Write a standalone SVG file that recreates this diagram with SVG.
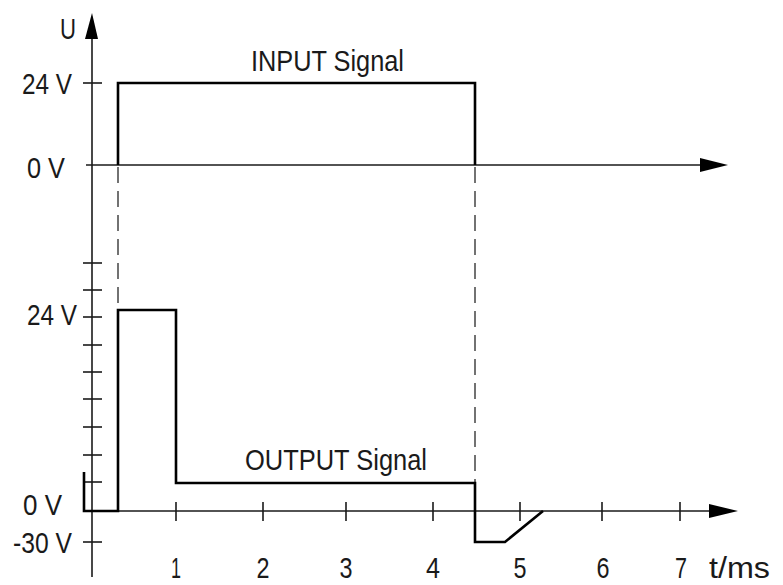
<svg xmlns="http://www.w3.org/2000/svg" width="783" height="585" viewBox="0 0 783 585">
<style>
.ax{stroke:#1a1a1a;stroke-width:1.6;fill:none}
.tk{stroke:#1a1a1a;stroke-width:1.6}
.sig{stroke:#000;stroke-width:2.6;fill:none;stroke-linejoin:miter}
.dash{stroke:#444;stroke-width:1.5;stroke-dasharray:16 8;fill:none}
.arr{fill:#000}
text{font-family:"Liberation Sans",Arial,sans-serif;font-size:30px;fill:#1a1a1a}
.c{text-anchor:middle}
</style>
<rect width="783" height="585" fill="#fff"/>
<g id="connectors">
<line class="ax" x1="92" y1="30" x2="92" y2="577"/>
<polygon class="arr" points="92,13 98,39 85,39"/>
<line class="ax" x1="86" y1="165" x2="710" y2="165"/>
<polygon class="arr" points="728,165 700,158 700,172"/>
<line class="ax" x1="84" y1="511" x2="720" y2="511"/>
<polygon class="arr" points="738,511 709,504 709,518"/>
<line class="tk" x1="83" y1="83" x2="102" y2="83"/>
<line class="tk" x1="83" y1="263" x2="102" y2="263"/>
<line class="tk" x1="83" y1="290" x2="102" y2="290"/>
<line class="tk" x1="83" y1="317" x2="102" y2="317"/>
<line class="tk" x1="83" y1="345" x2="102" y2="345"/>
<line class="tk" x1="83" y1="372" x2="102" y2="372"/>
<line class="tk" x1="83" y1="399" x2="102" y2="399"/>
<line class="tk" x1="83" y1="427" x2="102" y2="427"/>
<line class="tk" x1="83" y1="455" x2="102" y2="455"/>
<line class="tk" x1="83" y1="482" x2="102" y2="482"/>
<line class="tk" x1="83" y1="542" x2="102" y2="542"/>
<line class="tk" x1="176" y1="502" x2="176" y2="521"/>
<line class="tk" x1="263" y1="502" x2="263" y2="521"/>
<line class="tk" x1="346" y1="502" x2="346" y2="521"/>
<line class="tk" x1="433" y1="502" x2="433" y2="521"/>
<line class="tk" x1="520" y1="502" x2="520" y2="521"/>
<line class="tk" x1="602" y1="502" x2="602" y2="521"/>
<line class="tk" x1="680" y1="502" x2="680" y2="521"/>
<line class="dash" x1="118" y1="167" x2="118" y2="309"/>
<line class="dash" x1="475" y1="167" x2="475" y2="482"/>
<polyline class="sig" points="118,165 118,83 475,83 475,165"/>
<polyline class="sig" points="84,472 84,511 118,511 118,310 176,310 176,483 475,483 475,542 505,542 543,511"/>
</g>
<g id="labels">
<text x="60" y="39" textLength="16" lengthAdjust="spacingAndGlyphs">U</text>
<text x="22" y="94" textLength="50" lengthAdjust="spacingAndGlyphs">24 V</text>
<text x="27" y="178" textLength="38" lengthAdjust="spacingAndGlyphs">0 V</text>
<text x="27" y="325" textLength="50" lengthAdjust="spacingAndGlyphs">24 V</text>
<text x="23" y="515" textLength="39" lengthAdjust="spacingAndGlyphs">0 V</text>
<text x="13" y="553" textLength="59" lengthAdjust="spacingAndGlyphs">-30 V</text>
<text x="251" y="71" textLength="153" lengthAdjust="spacingAndGlyphs">INPUT Signal</text>
<text x="245" y="470" textLength="182" lengthAdjust="spacingAndGlyphs">OUTPUT Signal</text>
<text class="c" x="176" y="578" textLength="10" lengthAdjust="spacingAndGlyphs">1</text>
<text class="c" x="263" y="578" textLength="13" lengthAdjust="spacingAndGlyphs">2</text>
<text class="c" x="346" y="578" textLength="13" lengthAdjust="spacingAndGlyphs">3</text>
<text class="c" x="433" y="578" textLength="14" lengthAdjust="spacingAndGlyphs">4</text>
<text class="c" x="520" y="578" textLength="13" lengthAdjust="spacingAndGlyphs">5</text>
<text class="c" x="603" y="578" textLength="13" lengthAdjust="spacingAndGlyphs">6</text>
<text class="c" x="681" y="578" textLength="12" lengthAdjust="spacingAndGlyphs">7</text>
<text x="709" y="578" textLength="61" lengthAdjust="spacingAndGlyphs">t/ms</text>
</g>
</svg>
